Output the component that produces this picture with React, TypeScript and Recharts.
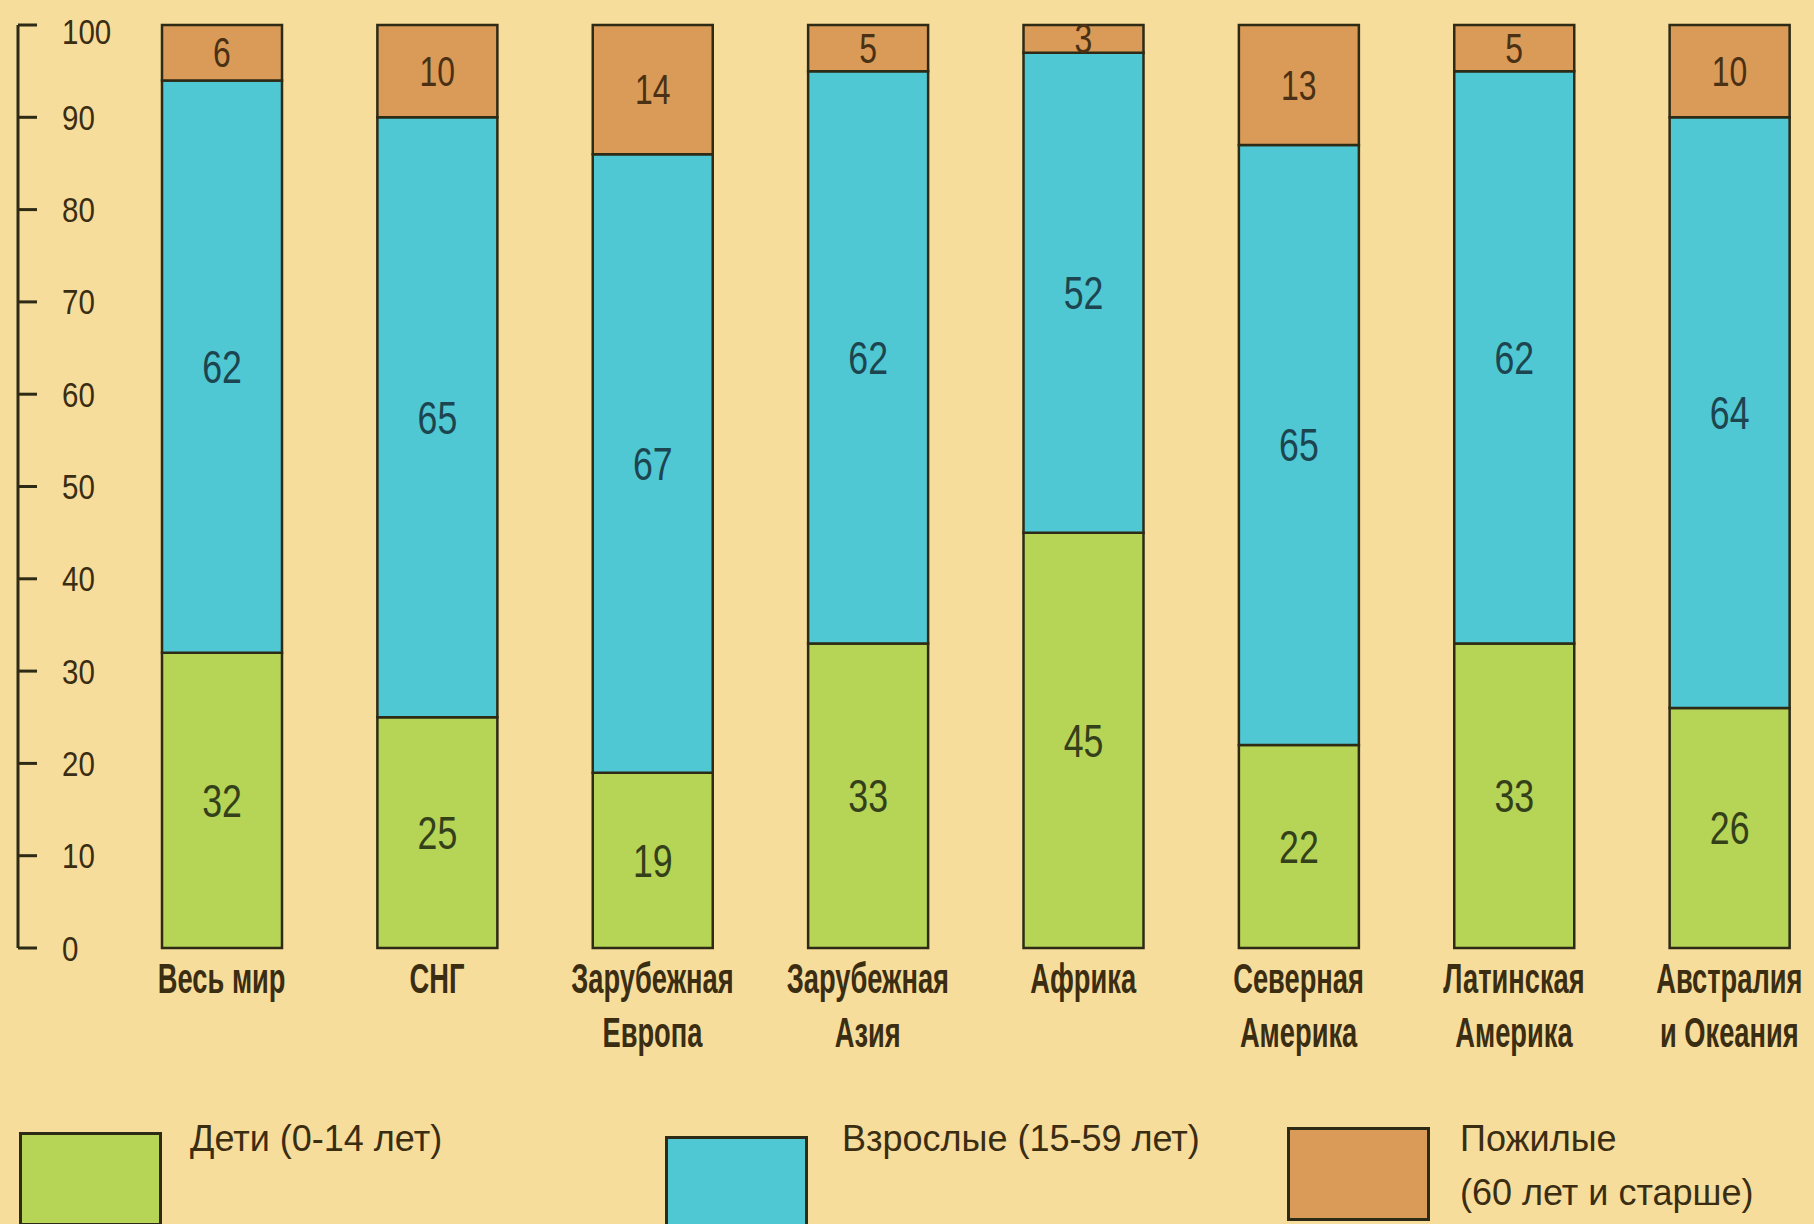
import React from 'react';
import { BarChart, Bar, XAxis, YAxis, Legend, LabelList } from 'recharts';

const categories = [
  'Весь мир',
  'СНГ',
  'Зарубежная\nЕвропа',
  'Зарубежная\nАзия',
  'Африка',
  'Северная\nАмерика',
  'Латинская\nАмерика',
  'Австралия\nи Океания',
];
const children = [32, 25, 19, 33, 45, 22, 33, 26];
const adults = [62, 65, 67, 62, 52, 65, 62, 64];
const elderly = [6, 10, 14, 5, 3, 13, 5, 10];
const yTicks = [0, 10, 20, 30, 40, 50, 60, 70, 80, 90, 100];
const seriesNames = ['Дети (0-14 лет)', 'Взрослые (15-59 лет)', 'Пожилые\n(60 лет и старше)'];

const data = categories.map((name, i) => ({
  name,
  children: children[i],
  adults: adults[i],
  elderly: elderly[i],
}));

const BG = '#F7DD9B';
const GREEN = '#B6D456';
const BLUE = '#4FC8D3';
const ORANGE = '#D99B57';
const EDGE = '#2d2a16';
const TEXT = '#3a2d12';
const FONT = "'Liberation Sans', Arial, sans-serif";

const makeNumLabel = (color: string, size: number) => (props: any) => {
  const { x, y, width, height, value } = props;
  const cx = Number(x) + Number(width) / 2;
  const cy = Number(y) + Number(height) / 2;
  return (
    <text
      transform={`translate(${cx},${cy}) scale(0.76,1)`}
      textAnchor="middle"
      dominantBaseline="central"
      fontSize={size}
      fontFamily={FONT}
      fill={color}
    >
      {value}
    </text>
  );
};

const YTick = (props: any) => {
  const { x, y, payload } = props;
  const dy = payload.value === 100 ? 6 : 0;
  return (
    <text
      transform={`translate(${x},${Number(y) + dy}) scale(0.82,1)`}
      textAnchor="start"
      dominantBaseline="central"
      fontSize={36}
      fontFamily={FONT}
      fill={TEXT}
    >
      {payload.value}
    </text>
  );
};

const XTick = (props: any) => {
  const { x, y, payload } = props;
  const lines = String(payload.value).split('\n');
  return (
    <g>
      {lines.map((ln, i) => (
        <text
          key={i}
          transform={`translate(${x},${Number(y) + 45 + i * 54}) scale(0.65,1)`}
          textAnchor="middle"
          fontSize={42}
          fontWeight="bold"
          fontFamily={FONT}
          fill={TEXT}
        >
          {ln}
        </text>
      ))}
    </g>
  );
};

const legendBoxes = [
  { left: 19, top: 32, width: 143 },
  { left: 665, top: 36, width: 143 },
  { left: 1287, top: 27, width: 143 },
];
const legendTexts = [{ left: 190 }, { left: 842 }, { left: 1460 }];

const renderLegend = (props: any) => {
  const payload = [...(props.payload || [])].sort(
    (a: any, b: any) => seriesNames.indexOf(a.value) - seriesNames.indexOf(b.value)
  );
  return (
    <div style={{ position: 'relative', width: 1814, height: 124 }}>
      {payload.map((p: any, i: number) => (
        <React.Fragment key={i}>
          <div
            style={{
              position: 'absolute',
              left: legendBoxes[i].left,
              top: legendBoxes[i].top,
              width: legendBoxes[i].width,
              height: 94,
              background: p.color,
              border: `3px solid ${EDGE}`,
              boxSizing: 'border-box',
            }}
          />
          <div
            style={{
              position: 'absolute',
              left: legendTexts[i].left,
              top: 12,
              fontFamily: FONT,
              fontSize: 36,
              lineHeight: '54px',
              color: TEXT,
              whiteSpace: 'pre-line',
            }}
          >
            {p.value}
          </div>
        </React.Fragment>
      ))}
    </div>
  );
};

export default function App() {
  return (
    <div
      style={{
        position: 'absolute',
        left: 0,
        top: 0,
        width: 1814,
        height: 1224,
        overflow: 'hidden',
        background: BG,
      }}
    >
      <BarChart
        width={1840}
        height={1224}
        data={data}
        margin={{ top: 25, right: 3, left: 18, bottom: 126 }}
        barSize={120}
      >
        <XAxis
          dataKey="name"
          axisLine={false}
          tickLine={false}
          tickSize={0}
          tickMargin={0}
          height={150}
          interval={0}
          padding={{ left: 96, right: 0 }}
          tick={<XTick />}
        />
        <YAxis
          type="number"
          domain={[0, 100]}
          ticks={yTicks}
          interval={0}
          mirror
          width={60}
          axisLine={{ stroke: EDGE, strokeWidth: 3 }}
          tickLine={{ stroke: EDGE, strokeWidth: 3 }}
          tickSize={19}
          tickMargin={25}
          tick={<YTick />}
        />
        <Legend
          verticalAlign="middle"
          align="center"
          layout="horizontal"
          wrapperStyle={{ left: 0, top: 1100, width: 1814, height: 124 }}
          content={renderLegend}
        />
        <Bar dataKey="children" name={seriesNames[0]} stackId="a" fill={GREEN} stroke={EDGE} strokeWidth={2.5} isAnimationActive={false}>
          <LabelList dataKey="children" content={makeNumLabel('#33401a', 47)} />
        </Bar>
        <Bar dataKey="adults" name={seriesNames[1]} stackId="a" fill={BLUE} stroke={EDGE} strokeWidth={2.5} isAnimationActive={false}>
          <LabelList dataKey="adults" content={makeNumLabel('#1d4550', 47)} />
        </Bar>
        <Bar dataKey="elderly" name={seriesNames[2]} stackId="a" fill={ORANGE} stroke={EDGE} strokeWidth={2.5} isAnimationActive={false}>
          <LabelList dataKey="elderly" content={makeNumLabel('#4a3014', 42)} />
        </Bar>
      </BarChart>
    </div>
  );
}
